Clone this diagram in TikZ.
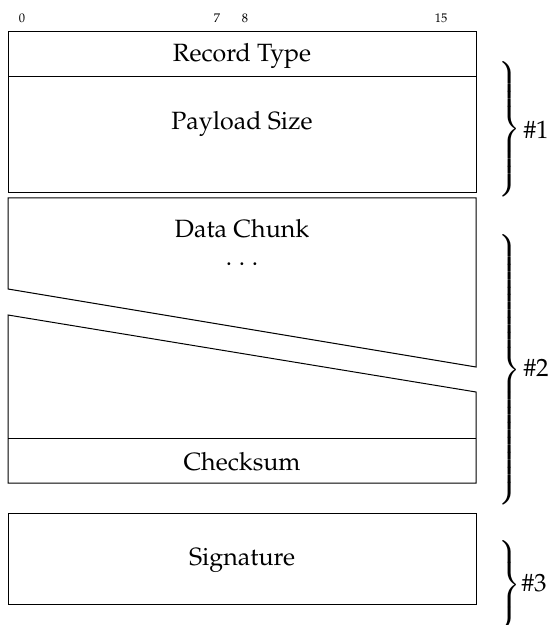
\documentclass[tikz,border=0pt]{standalone}
\usepackage[T1]{fontenc}
\usepackage{mathpazo}
\begin{document}
\begin{tikzpicture}[x=0.4pt,y=-0.4pt,
  field/.style={draw=black,line width=0.4pt},
  lbl/.style={font=\normalsize,inner sep=0pt,anchor=base},
  bitnum/.style={font=\tiny,inner sep=0pt,anchor=base},
  grp/.style={inner sep=0pt,anchor=west},
  grplbl/.style={font=\normalsize,inner sep=0pt,anchor=west}]
\useasboundingbox (0,0) rectangle (549,625);
\delimiterfactor=1000 \delimitershortfall=0pt \nulldelimiterspace=0pt
% bit numbers
\node[bitnum] (b0) at (22,22.5) {0};
\node[bitnum] (b7) at (217,22.5) {7};
\node[bitnum] (b8) at (245,22.5) {8};
\node[bitnum] (b15) at (441,22.5) {15};
% group 1
\draw[field] (8,32) rectangle (476,193);
\draw[field] (8,77) -- (476,77);
\node[lbl] (rt) at (242,62) {Record Type};
\node[lbl] (ps) at (242,130) {Payload Size};
% group 2
\draw[field] (8,289) -- (8,198) -- (476,198) -- (476,367) -- cycle;
\draw[field] (8,315) -- (476,392) -- (476,483) -- (8,483) -- cycle;
\draw[field] (8,438) -- (476,438);
\node[lbl] (dc) at (242,237) {Data Chunk};
\node[lbl] (dots) at (242,265) {.\kern2.7pt.\kern2.7pt.};
\node[lbl] (cs) at (242,470) {Checksum};
% group 3
\draw[field] (8,513) rectangle (476,604);
\node[lbl] (sg) at (242,565) {Signature};
% braces
\node[grp] (br1) at (498,129.5) {$\left.\vcenter{\hbox{\rule{0pt}{48pt}}}\right\}$};
\node[grplbl] (g1) at (523,130) {\#1};
\node[grp] (br2) at (498,370) {$\left.\vcenter{\hbox{\rule{0pt}{105pt}}}\right\}$};
\node[grplbl] (g2) at (523,368) {\#2};
\node[grp] (br3) at (498,585) {$\left.\vcenter{\hbox{\rule{0pt}{30pt}}}\right\}$};
\node[grplbl] (g3) at (521,583) {\#3};
\end{tikzpicture}
\end{document}
